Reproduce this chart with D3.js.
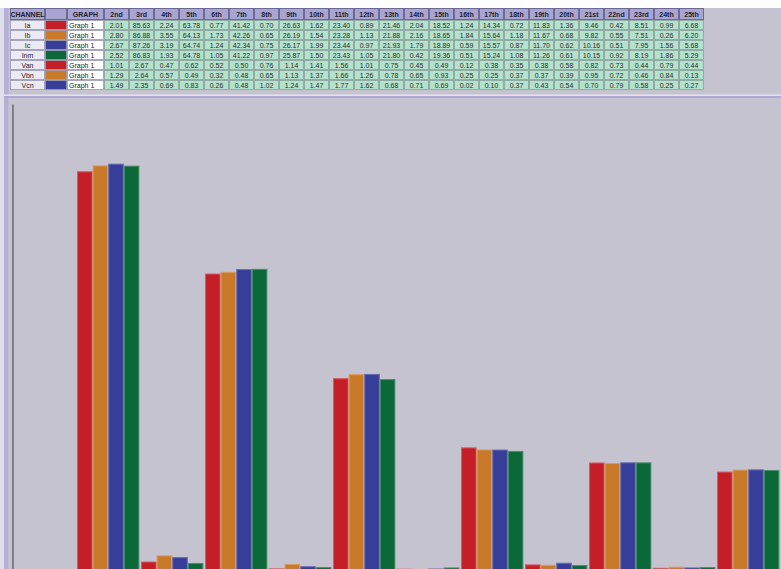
<!DOCTYPE html>
<html>
<head>
<meta charset="utf-8">
<script src="https://cdn.jsdelivr.net/npm/d3@7"></script>
<style>
  html, body { margin: 0; padding: 0; background: #c6c3d0; }
  svg { display: block; }
  text { font-family: "Liberation Sans", Arial, sans-serif; }
</style>
</head>
<body>
<svg id="chart" width="781" height="569"></svg>
<script>
// Harmonic orders listed in the table
const harmonics = ["2nd","3rd","4th","5th","6th","7th","8th","9th","10th","11th","12th","13th",
  "14th","15th","16th","17th","18th","19th","20th","21st","22nd","23rd","24th","25th"];

// Channel names, trace colours and graph assignment
const channels = ["Ia","Ib","Ic","Inm","Van","Vbn","Vcn"];
const channelColors = ["#c41f27","#c87a28","#373e97","#0b6838","#c41f27","#c87a28","#373e97"];
const graphNames = ["Graph 1","Graph 1","Graph 1","Graph 1","Graph 1","Graph 1","Graph 1"];

// Harmonic magnitudes (% of fundamental), 2nd..25th
const Ia  = [2.01,85.63,2.24,63.78,0.77,41.42,0.70,26.63,1.62,23.40,0.89,21.46,2.04,18.52,1.24,14.34,0.72,11.83,1.36,9.46,0.42,8.51,0.99,6.68];
const Ib  = [2.80,86.88,3.55,64.13,1.73,42.26,0.65,26.19,1.54,23.28,1.13,21.88,2.16,18.65,1.84,15.64,1.18,11.67,0.68,9.82,0.55,7.51,0.26,6.20];
const Ic  = [2.67,87.26,3.19,64.74,1.24,42.34,0.75,26.17,1.99,23.44,0.97,21.93,1.79,18.89,0.59,15.57,0.87,11.70,0.62,10.16,0.51,7.95,1.56,5.68];
const Inm = [2.52,86.83,1.93,64.78,1.05,41.22,0.97,25.87,1.50,23.43,1.05,21.80,0.42,19.36,0.51,15.24,1.08,11.26,0.61,10.15,0.92,8.19,1.86,5.29];
const Van = [1.01,2.67,0.47,0.62,0.52,0.50,0.76,1.14,1.41,1.56,1.01,0.75,0.45,0.49,0.12,0.38,0.35,0.38,0.58,0.82,0.73,0.44,0.79,0.44];
const Vbn = [1.29,2.64,0.57,0.49,0.32,0.48,0.65,1.13,1.37,1.66,1.26,0.78,0.65,0.93,0.25,0.25,0.37,0.37,0.39,0.95,0.72,0.46,0.84,0.13];
const Vcn = [1.49,2.35,0.69,0.83,0.26,0.48,1.02,1.24,1.47,1.77,1.62,0.68,0.71,0.69,0.02,0.10,0.37,0.43,0.54,0.70,0.79,0.58,0.25,0.27];

const series = [Ia, Ib, Ic, Inm, Van, Vbn, Vcn];

// Bar graph shows the current channels from the 3rd harmonic upward
const plotChannels = ["Ia","Ib","Ic","Inm"];
const plotHarmonics = harmonics.slice(1);

const svg = d3.select("#chart");
const W = 781, H = 569;

// ---------- window frame ----------
svg.append("rect").attr("x",0).attr("y",0).attr("width",W).attr("height",H).attr("fill","#c6c3d0");
svg.append("rect").attr("x",0).attr("y",0).attr("width",W).attr("height",8).attr("fill","#fdfdfe");
svg.append("rect").attr("x",0).attr("y",8).attr("width",4).attr("height",H-8).attr("fill","#e1dfe9");
svg.append("rect").attr("x",4).attr("y",8).attr("width",4.5).attr("height",H-8).attr("fill","#b3afd9");
// separator between table and plot panel
svg.append("rect").attr("x",4).attr("y",94.5).attr("width",W-4).attr("height",1.5).attr("fill","#e4e2ec");
svg.append("rect").attr("x",4).attr("y",96).attr("width",W-4).attr("height",2).attr("fill","#aeaad5");
svg.append("rect").attr("x",8.5).attr("y",98).attr("width",W-8.5).attr("height",H-98).attr("fill","#c6c3d0");

// ---------- data table ----------
const colX = [10, 45, 67, 104];
const valColW = 25;
const headY = 8, headH = 12, rowH = 10;
const table = svg.append("g").attr("class","table");

const headers = ["CHANNEL", "", "GRAPH"].concat(harmonics);
const colLeft = i => i < 3 ? colX[i] : colX[3] + (i - 3) * valColW;
const colWidth = i => i < 3 ? colX[i+1] - colX[i] : valColW;

headers.forEach((h, i) => {
  table.append("rect")
    .attr("x", colLeft(i) + 0.5).attr("y", headY + 0.5)
    .attr("width", colWidth(i) - 1).attr("height", headH - 1)
    .attr("fill", "#a9a5d3").attr("stroke", "#6c6994").attr("stroke-width", 1);
  if (h) {
    table.append("text")
      .attr("x", colLeft(i) + colWidth(i) / 2).attr("y", headY + 8.5)
      .attr("text-anchor", "middle").attr("font-size", 7).attr("font-weight", "bold")
      .attr("fill", "#1e1e2c").text(h);
  }
});

channels.forEach((ch, r) => {
  const y0 = headY + headH + r * rowH;
  // channel name
  table.append("rect").attr("x", colX[0] + 0.5).attr("y", y0 + 0.5)
    .attr("width", colX[1] - colX[0] - 1).attr("height", rowH - 1)
    .attr("fill", "#ebe9f3").attr("stroke", "#9a98ae").attr("stroke-width", 0.8);
  table.append("text").attr("x", (colX[0] + colX[1]) / 2).attr("y", y0 + 7.5)
    .attr("text-anchor", "middle").attr("font-size", 7).attr("fill", "#222").text(ch);
  // colour swatch
  table.append("rect").attr("x", colX[1] + 0.5).attr("y", y0 + 0.5)
    .attr("width", colX[2] - colX[1] - 1).attr("height", rowH - 1)
    .attr("fill", channelColors[r]).attr("stroke", "#9a98ae").attr("stroke-width", 0.8);
  // graph assignment
  table.append("rect").attr("x", colX[2] + 0.5).attr("y", y0 + 0.5)
    .attr("width", colX[3] - colX[2] - 1).attr("height", rowH - 1)
    .attr("fill", "#ffffff").attr("stroke", "#9a98ae").attr("stroke-width", 0.8);
  table.append("text").attr("x", colX[2] + 2).attr("y", y0 + 7.5)
    .attr("font-size", 7).attr("fill", "#222").text(graphNames[r]);
  // values
  series[r].forEach((v, c) => {
    const x0 = colLeft(c + 3);
    table.append("rect").attr("x", x0 + 0.5).attr("y", y0 + 0.5)
      .attr("width", valColW - 1).attr("height", rowH - 1)
      .attr("fill", "#b5e2cd").attr("stroke", "#86a49a").attr("stroke-width", 0.8);
    table.append("text").attr("x", x0 + valColW / 2).attr("y", y0 + 7.5)
      .attr("text-anchor", "middle").attr("font-size", 7).attr("fill", "#2a2a2a")
      .text(v.toFixed(2));
  });
});

// ---------- bar graph ----------
const y = d3.scaleLinear().domain([0, 100]).range([572, 104]);

const x0 = 77, step = 64, pad = 0.025;
const x = d3.scaleBand()
  .domain(plotHarmonics)
  .range([x0, x0 + step * (plotHarmonics.length - pad)])
  .paddingInner(pad).paddingOuter(0);

const xs = d3.scaleBand().domain(plotChannels).range([0, x.bandwidth()]).padding(0);

const strokeColors = {"Ia":"#d65a60","Ib":"#d99a5c","Ic":"#6a6fb5","Inm":"#4b8e6a"};

const plot = svg.append("g").attr("class","plot");
plot.append("defs").append("clipPath").attr("id","plotClip")
  .append("rect").attr("x", 13).attr("y", 98).attr("width", W - 13).attr("height", H - 98);

const bars = plot.append("g").attr("clip-path","url(#plotClip)");
plotChannels.forEach((ch, k) => {
  const vals = series[channels.indexOf(ch)].slice(1);
  bars.selectAll(null)
    .data(plotHarmonics.map((h, i) => ({h, v: vals[i]})))
    .join("rect")
    .attr("x", d => x(d.h) + xs(ch) + 0.5)
    .attr("y", d => y(d.v) + 0.5)
    .attr("width", xs.bandwidth() - 1)
    .attr("height", d => Math.max(0, y(0) - y(d.v)))
    .attr("fill", channelColors[k])
    .attr("stroke", strokeColors[ch])
    .attr("stroke-width", 1);
});

// vertical axis line
const yAxis = d3.axisLeft(y).tickValues([]).tickSizeOuter(0);
plot.append("g").attr("transform", "translate(12.5,0)").call(yAxis)
  .select(".domain").attr("stroke", "#3a3a46").attr("stroke-width", 1);
</script>
</body>
</html>
